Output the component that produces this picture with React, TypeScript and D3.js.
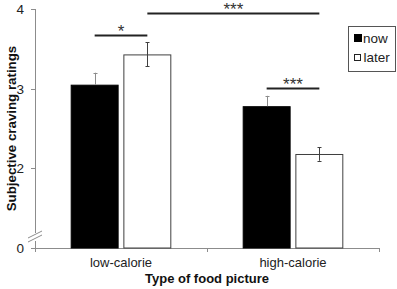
import React from "react";
import * as d3 from "d3";

const categories = ["low-calorie", "high-calorie"];
const seriesNames = ["now", "later"];
const nowValues = [3.05, 2.78];
const laterValues = [3.43, 2.18];
const nowErrors = [0.15, 0.13];
const laterErrors = [0.15, 0.085];
const yTickValues = [1, 2, 3, 4];
const yTickLabels = ["0", "2", "3", "4"];

const W = 397;
const H = 289;
const margin = { left: 35, right: 18, top: 9, bottom: 41 };
const axisColor = "#8c8c8c";
const darkGray = "#404040";
const font = "Liberation Sans, Arial, sans-serif";

export default function App() {
  const x0 = d3
    .scaleBand<string>()
    .domain(categories)
    .range([margin.left, W - margin.right])
    .paddingInner(0.415)
    .paddingOuter(0.2075);
  const x1 = d3
    .scaleBand<string>()
    .domain(seriesNames)
    .range([0, x0.bandwidth()])
    .paddingInner(0.09);
  const y = d3.scaleLinear().domain([1, 4]).range([H - margin.bottom, margin.top]);

  const values: Record<string, number[]> = { now: nowValues, later: laterValues };
  const errors: Record<string, number[]> = { now: nowErrors, later: laterErrors };

  const bars = categories.flatMap((c, i) =>
    seriesNames.map((s) => ({
      c,
      s,
      v: values[s][i],
      e: errors[s][i],
      x: (x0(c) ?? 0) + (x1(s) ?? 0),
      cx: (x0(c) ?? 0) + (x1(s) ?? 0) + x1.bandwidth() / 2,
    }))
  );
  const barCenter = (c: string, s: string) =>
    (x0(c) ?? 0) + (x1(s) ?? 0) + x1.bandwidth() / 2;

  const axisY = y(1);
  const xEnd = W - margin.right;
  const step = x0.step();
  const xTicks = [margin.left, margin.left + step, margin.left + 2 * step];

  const sigs = [
    { x1: barCenter("low-calorie", "now"), x2: barCenter("low-calorie", "later"), y: 35.5, label: "*" },
    { x1: barCenter("low-calorie", "later"), x2: barCenter("high-calorie", "later"), y: 13.5, label: "***" },
    { x1: barCenter("high-calorie", "now"), x2: barCenter("high-calorie", "later"), y: 88.5, label: "***" },
  ];

  const breakY = axisY - 11;

  return (
    <svg width={W} height={H} style={{ position: "absolute", left: 0, top: 0, background: "#fff" }}>
      {/* y axis with break */}
      <line x1={margin.left + 0.5} x2={margin.left + 0.5} y1={margin.top} y2={breakY - 4} stroke={axisColor} />
      <line x1={margin.left + 0.5} x2={margin.left + 0.5} y1={breakY + 4} y2={axisY} stroke={axisColor} />
      <line x1={28} y1={breakY + 1} x2={42} y2={breakY - 6} stroke={axisColor} />
      <line x1={28} y1={breakY + 5} x2={42} y2={breakY - 2} stroke={axisColor} />
      {yTickValues.map((t, i) => (
        <g key={t}>
          <line x1={margin.left - 4} x2={margin.left} y1={Math.round(y(t)) + 0.5} y2={Math.round(y(t)) + 0.5} stroke={axisColor} />
          <text x={margin.left - 11} y={y(t)} dy="0.36em" textAnchor="end" fontFamily={font} fontSize={13.5} fill="#222">
            {yTickLabels[i]}
          </text>
        </g>
      ))}
      {/* x axis */}
      <line x1={margin.left} x2={xEnd} y1={Math.round(axisY) + 0.5} y2={Math.round(axisY) + 0.5} stroke={axisColor} />
      {xTicks.map((t) => (
        <line key={t} x1={t + 0.5} x2={t + 0.5} y1={axisY} y2={axisY + 4} stroke={axisColor} />
      ))}
      {categories.map((c) => (
        <text key={c} x={(x0(c) ?? 0) + x0.bandwidth() / 2} y={267} textAnchor="middle" fontFamily={font} fontSize={13} fill="#222">
          {c}
        </text>
      ))}
      <text x={207} y={283} textAnchor="middle" fontFamily={font} fontSize={13} fontWeight="bold" fill="#111">
        Type of food picture
      </text>
      <text
        transform={`translate(16,${(margin.top + axisY) / 2}) rotate(-90)`}
        textAnchor="middle"
        fontFamily={font}
        fontSize={13.3}
        fontWeight="bold"
        fill="#111"
      >
        Subjective craving ratings
      </text>
      {/* bars */}
      {bars.map((b) => (
        <rect
          key={b.c + b.s}
          x={b.x + 0.5}
          y={y(b.v) + 0.5}
          width={x1.bandwidth() - 1}
          height={axisY - y(b.v) - 0.5}
          fill={b.s === "now" ? "#000" : "#fff"}
          stroke={b.s === "now" ? "#000" : darkGray}
          strokeWidth={1}
        />
      ))}
      {/* error bars */}
      {bars.map((b) => {
        const top = y(b.v + b.e);
        const bot = b.s === "now" ? y(b.v) : y(b.v - b.e);
        const cx = Math.round(b.cx) + 0.5;
        return (
          <g key={"e" + b.c + b.s} stroke={b.s === "now" ? "#8c8c8c" : darkGray}>
            <line x1={cx} x2={cx} y1={top} y2={bot} />
            <line x1={cx - 2} x2={cx + 2} y1={Math.round(top) + 0.5} y2={Math.round(top) + 0.5} />
            {b.s === "later" && <line x1={cx - 2} x2={cx + 2} y1={Math.round(bot) + 0.5} y2={Math.round(bot) + 0.5} />}
          </g>
        );
      })}
      {/* significance */}
      {sigs.map((s, i) => (
        <g key={i}>
          <line x1={s.x1} x2={s.x2} y1={s.y} y2={s.y} stroke="#222" strokeWidth={2} />
          <text x={(s.x1 + s.x2) / 2} y={s.y + 1} textAnchor="middle" fontFamily={font} fontSize={17} fill="#333">
            {s.label}
          </text>
        </g>
      ))}
      {/* legend */}
      <rect x={348.5} y={26.5} width={47} height={45} fill="#fff" stroke="#555" />
      <rect x={354.5} y={34.5} width={7} height={7} fill="#000" stroke="#000" />
      <text x={363} y={38} dy="0.36em" fontFamily={font} fontSize={13.5} fill="#222">now</text>
      <rect x={354.5} y={54.5} width={6} height={6} fill="#fff" stroke="#222" />
      <text x={363.5} y={57.5} dy="0.36em" fontFamily={font} fontSize={13.5} fill="#222">later</text>
    </svg>
  );
}
